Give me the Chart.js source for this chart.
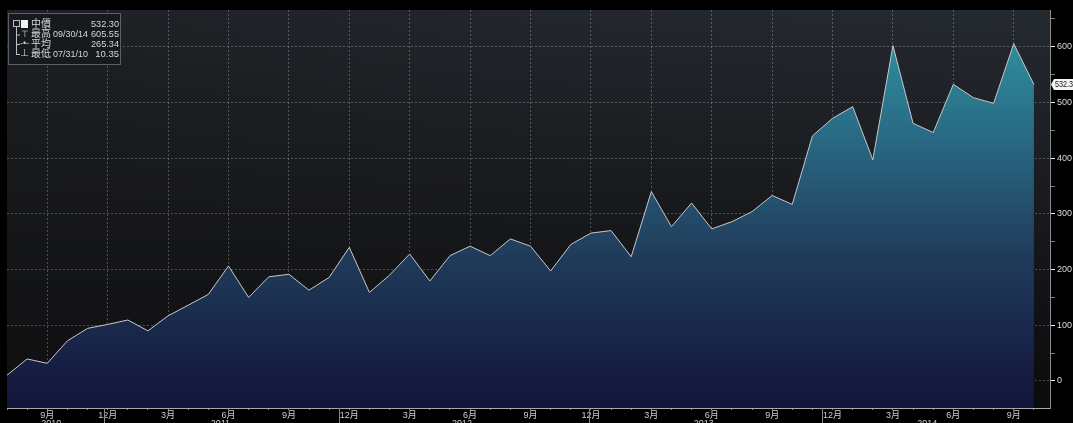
<!DOCTYPE html>
<html>
<head>
<meta charset="utf-8">
<script src="https://cdn.jsdelivr.net/npm/chart.js@4.4.0/dist/chart.umd.min.js"></script>
<style>
  html, body { margin: 0; padding: 0; background: #000; }
  canvas { display: block; }
</style>
</head>
<body>
<canvas id="chart" width="1073" height="423"></canvas>
<script>
/* global Chart */
// monthly values, Jul 2010 - Oct 2014
const months = [
  "2010-07", "2010-08", "2010-09", "2010-10", "2010-11", "2010-12",
  "2011-01", "2011-02", "2011-03", "2011-04", "2011-05", "2011-06",
  "2011-07", "2011-08", "2011-09", "2011-10", "2011-11", "2011-12",
  "2012-01", "2012-02", "2012-03", "2012-04", "2012-05", "2012-06",
  "2012-07", "2012-08", "2012-09", "2012-10", "2012-11", "2012-12",
  "2013-01", "2013-02", "2013-03", "2013-04", "2013-05", "2013-06",
  "2013-07", "2013-08", "2013-09", "2013-10", "2013-11", "2013-12",
  "2014-01", "2014-02", "2014-03", "2014-04", "2014-05", "2014-06",
  "2014-07", "2014-08", "2014-09", "2014-10"
];
const values = [
  10.35, 39.5, 31.7, 72, 94.5, 101.5,
  109.5, 90, 117, 136, 155.5, 206.5, 150, 187, 191.5, 163, 186, 240,
  159, 190, 228, 179.5, 225, 242, 225, 255, 242, 197.5, 245, 265.5,
  270, 223, 340, 277, 319.5, 273, 286, 304, 333, 317, 440, 471.5,
  492.5, 397, 602, 462.5, 446, 532.5, 508.5, 498.5, 605.55, 532.3
];
// year captions under the month ticks, placed at month index
const yearLabels = ["2010", "2011", "2012", "2013", "2014"];
const yearAt = [2.2, 10.6, 22.6, 34.6, 45.7];
const yearSep = [4.8, 16.5, 28.9, 40.5];
// legend box
const legendNames = ["中價", "最高", "平均", "最低"];
const legendDates = ["", "09/30/14", "", "07/31/10"];
const legendValues = ["532.30", "605.55", "265.34", "10.35"];

const FONT = "'Liberation Sans', 'Noto Sans CJK TC', sans-serif";
Chart.defaults.font.family = FONT;
Chart.defaults.font.size = 9;
Chart.defaults.color = "#cfcfcf";

const gridColor = "rgba(190, 195, 205, 0.34)";

const backdrop = {
  id: "backdrop",
  beforeDraw(chart) {
    const { ctx, chartArea: a } = chart;
    ctx.save();
    ctx.fillStyle = "#000";
    ctx.fillRect(0, 0, chart.width, chart.height);
    const g = ctx.createLinearGradient(0, a.top, 0, a.bottom);
    g.addColorStop(0, "#252a31");
    g.addColorStop(0.45, "#191b1e");
    g.addColorStop(1, "#0b0b0e");
    ctx.fillStyle = g;
    ctx.fillRect(a.left, a.top, a.right - a.left, a.bottom - a.top);
    // left side reads a little more neutral / darker than the right
    const h = ctx.createLinearGradient(a.left, 0, a.right, 0);
    h.addColorStop(0, "rgba(20, 20, 20, 0.45)");
    h.addColorStop(0.5, "rgba(20, 20, 20, 0.15)");
    h.addColorStop(1, "rgba(20, 20, 20, 0)");
    ctx.fillStyle = h;
    ctx.fillRect(a.left, a.top, a.right - a.left, a.bottom - a.top);
    ctx.restore();
  }
};

const extras = {
  id: "extras",
  afterDraw(chart) {
    const { ctx, chartArea: a } = chart;
    const x = chart.scales.x;
    const y = chart.scales.y;
    ctx.save();

    // year captions and separators under the x axis
    ctx.font = "9px " + FONT;
    ctx.fillStyle = "#cfcfcf";
    ctx.textAlign = "center";
    ctx.textBaseline = "top";
    yearLabels.forEach((t, i) => ctx.fillText(t, x.getPixelForValue(yearAt[i]), 419));
    ctx.strokeStyle = "#8a8a8a";
    ctx.lineWidth = 1;
    yearSep.forEach((s) => {
      const px = Math.round(x.getPixelForValue(s)) + 0.5;
      ctx.beginPath();
      ctx.moveTo(px, a.bottom);
      ctx.lineTo(px, chart.height);
      ctx.stroke();
    });

    // last value tag on the right axis
    const last = values[values.length - 1];
    const ly = Math.round(y.getPixelForValue(last)) + 0.5;
    const lx = a.right + 1;
    ctx.beginPath();
    ctx.moveTo(lx, ly);
    ctx.lineTo(lx + 3, ly - 5.5);
    ctx.lineTo(chart.width + 5, ly - 5.5);
    ctx.lineTo(chart.width + 5, ly + 5.5);
    ctx.lineTo(lx + 3, ly + 5.5);
    ctx.closePath();
    ctx.fillStyle = "#f4f4f4";
    ctx.fill();
    ctx.fillStyle = "#111";
    ctx.textAlign = "left";
    ctx.textBaseline = "middle";
    ctx.font = "8.5px " + FONT;
    ctx.fillText(last.toFixed(2), lx + 4, ly + 0.5, 22);

    // legend box
    const bx = 8.5, by = 13.5, bw = 112, bh = 51;
    ctx.fillStyle = "#16191d";
    ctx.fillRect(bx, by, bw, bh);
    ctx.strokeStyle = "#5c5f63";
    ctx.strokeRect(bx, by, bw, bh);
    const rows = [24, 34.5, 44, 54];
    ctx.strokeStyle = "#bdbdbd";
    ctx.beginPath();
    ctx.moveTo(16.5, 27);
    ctx.lineTo(16.5, 55);
    rows.slice(1).forEach((ry) => { ctx.moveTo(16.5, ry + 0.5); ctx.lineTo(20, ry + 0.5); });
    ctx.stroke();
    ctx.strokeRect(13.5, 20.5, 6, 6);
    ctx.fillStyle = "#f2f2f2";
    ctx.fillRect(21, 20, 7, 8);
    ctx.fillStyle = "#d6d6d6";
    ctx.textBaseline = "middle";
    ctx.textAlign = "center";
    ctx.font = "9px " + FONT;
    ctx.fillText("⊤", 24.5, rows[1]);
    ctx.fillText("-•-", 24.5, rows[2]);
    ctx.fillText("⊥", 24.5, rows[3]);
    legendNames.forEach((n, i) => {
      ctx.textAlign = "left";
      ctx.font = "10px " + FONT;
      ctx.fillText(n, 31, rows[i], 20);
      ctx.font = "9.5px " + FONT;
      if (legendDates[i]) ctx.fillText(legendDates[i], 53, rows[i], 35);
      ctx.textAlign = "right";
      ctx.fillText(legendValues[i], 119, rows[i], 28);
    });
    ctx.restore();
  }
};

const ctx = document.getElementById("chart").getContext("2d");
new Chart(ctx, {
  type: "line",
  data: {
    datasets: [{
      data: values.map((v, i) => ({ x: i, y: v })),
      borderColor: "#c6c8ca",
      borderWidth: 1,
      pointRadius: 0,
      tension: 0,
      fill: "start",
      backgroundColor(context) {
        const { ctx, chartArea } = context.chart;
        if (!chartArea) return "rgba(0,0,0,0)";
        const g = ctx.createLinearGradient(0, chartArea.top, 0, chartArea.bottom);
        g.addColorStop(0, "#3399a8");
        g.addColorStop(0.1, "#2e8b9b");
        g.addColorStop(0.35, "#286580");
        g.addColorStop(0.62, "#203b5a");
        g.addColorStop(1, "#12143a");
        return g;
      }
    }]
  },
  options: {
    responsive: false,
    animation: false,
    layout: { padding: { top: 10, left: 7, right: 0, bottom: 0 } },
    plugins: { legend: { display: false }, tooltip: { enabled: false } },
    scales: {
      x: {
        type: "linear",
        min: 0,
        max: 51.8,
        afterBuildTicks(scale) {
          scale.ticks = months.map((m, i) => ({ value: i }));
        },
        afterFit(scale) { scale.height = 15; },
        ticks: {
          autoSkip: false,
          maxRotation: 0,
          padding: 0,
          color: "#cfcfcf",
          callback(v) {
            const m = +months[v].slice(5);
            return m % 3 === 0 ? m + "月" : "";
          }
        },
        grid: {
          color(c) {
            if (!c.tick) return "rgba(0,0,0,0)";
            const m = +months[c.tick.value].slice(5);
            return m % 3 === 0 ? gridColor : "rgba(0,0,0,0)";
          },
          tickColor: "#8a8a8a",
          tickLength: 2
        },
        border: { color: "#a8a8a8", dash: [2, 2] }
      },
      y: {
        position: "right",
        min: -48.5,
        max: 666,
        afterBuildTicks(scale) {
          const t = [];
          for (let v = 0; v <= 650; v += 50) t.push({ value: v });
          scale.ticks = t;
        },
        afterFit(scale) { scale.width = 23; },
        ticks: {
          padding: 2,
          color: "#dcdcdc",
          callback(v) { return v % 100 === 0 ? String(v) : ""; }
        },
        grid: {
          color(c) {
            return c.tick && c.tick.value % 100 === 0 ? gridColor : "rgba(0,0,0,0)";
          },
          tickColor(c) {
            return c.tick && c.tick.value % 100 === 0 ? "#f0f0f0" : "#7a7a7a";
          },
          tickLength: 5
        },
        border: { color: "#8c8c8c", dash: [2, 2] }
      }
    }
  },
  plugins: [backdrop, extras]
});
</script>
</body>
</html>
